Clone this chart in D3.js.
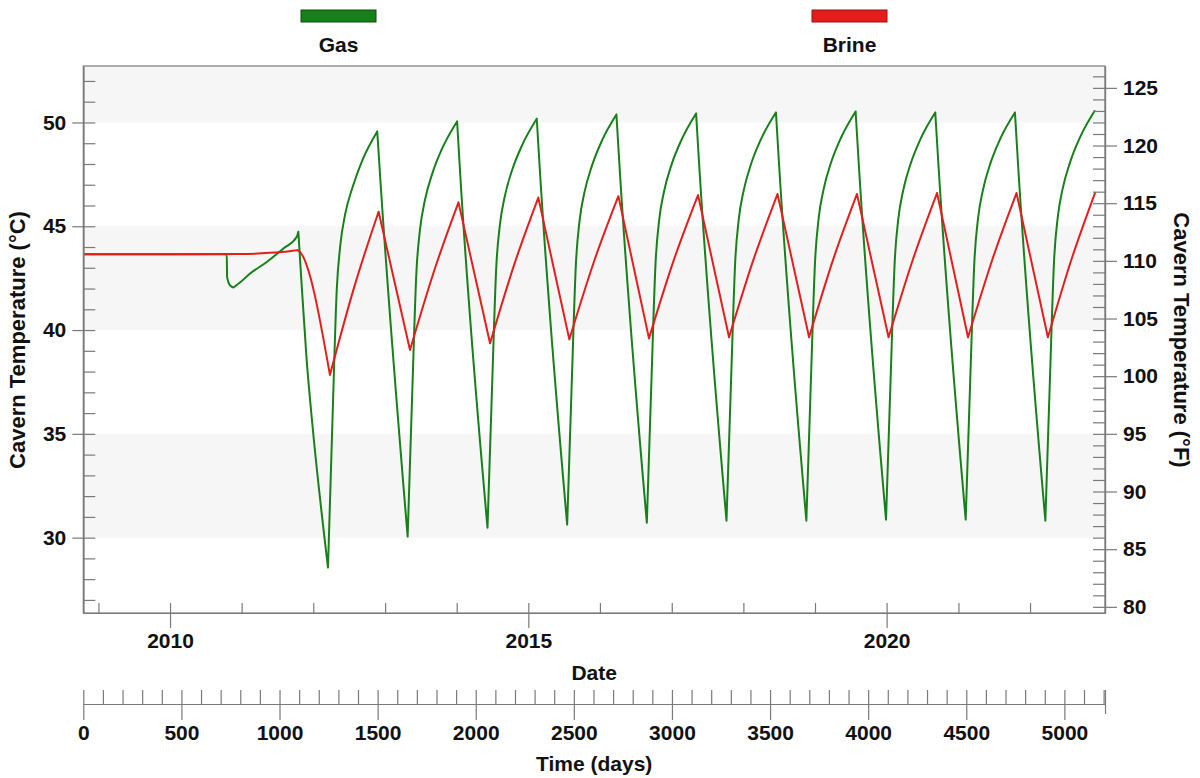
<!DOCTYPE html>
<html>
<head>
<meta charset="utf-8">
<script src="https://cdn.jsdelivr.net/npm/d3@7"></script>
<style>
  body { margin: 0; background: #fff; }
  text { font-family: Arial, "Liberation Sans", sans-serif; font-weight: bold; fill: #111; }
</style>
</head>
<body>
<svg id="chart" width="1200" height="778"></svg>
<script>
// Cavern temperature history: gas and brine, [day, °C]
const gasSeries = [
  [0, 43.65], [731, 43.65], [733, 42.55], [748, 42.15], [765, 42.05], [800, 42.3], [850, 42.72],
  [935, 43.28], [1020, 43.93], [1088, 44.49], [1096, 44.73], [1110, 42.6], [1138, 38.6], [1164, 35.8],
  [1247, 28.56], [1270, 35.7], [1292, 42.0], [1310, 44.1], [1335, 45.6], [1373, 46.9], [1423, 48.2], [1498, 49.57],
  [1514, 47.23],
  [1653, 30.05], [1676, 36.85], [1698, 42.85], [1716, 44.85], [1741, 46.25], [1779, 47.55], [1829, 48.75], [1905, 50.05],
  [1920, 47.65],
  [2060, 30.48], [2083, 37.18], [2105, 43.09], [2123, 45.06], [2148, 46.44], [2186, 47.72], [2236, 48.9], [2311, 50.18],
  [2326, 47.83],
  [2466, 30.63], [2489, 37.35], [2511, 43.27], [2529, 45.25], [2554, 46.63], [2592, 47.91], [2642, 49.1], [2717, 50.38],
  [2732, 48.02],
  [2872, 30.72], [2895, 37.42], [2917, 43.33], [2935, 45.31], [2960, 46.69], [2998, 47.97], [3048, 49.15], [3123, 50.43],
  [3138, 48.08],
  [3278, 30.82], [3301, 37.5], [3323, 43.4], [3341, 45.37], [3366, 46.74], [3404, 48.02], [3454, 49.2], [3530, 50.48],
  [3545, 48.12],
  [3685, 30.82], [3708, 37.52], [3730, 43.43], [3748, 45.41], [3773, 46.79], [3811, 48.07], [3861, 49.25], [3936, 50.53],
  [3951, 48.17],
  [4091, 30.87], [4114, 37.54], [4136, 43.42], [4154, 45.38], [4179, 46.75], [4217, 48.03], [4267, 49.21], [4342, 50.48],
  [4357, 48.13],
  [4497, 30.87], [4520, 37.54], [4542, 43.42], [4560, 45.38], [4585, 46.75], [4623, 48.03], [4673, 49.21], [4748, 50.48],
  [4763, 48.12],
  [4903, 30.82], [4926, 37.53], [4948, 43.45], [4966, 45.42], [4991, 46.8], [5029, 48.08], [5079, 49.27], [5154, 50.55]
];

const brineSeries = [
  [0, 43.65], [800, 43.66], [950, 43.72], [1050, 43.8], [1090, 43.85], [1100, 43.8],
  [1257, 37.84], [1381, 42.08], [1505, 45.7],
  [1665, 39.04], [1789, 42.88], [1912, 46.15],
  [2073, 39.36], [2196, 43.15], [2319, 46.38],
  [2477, 39.55], [2602, 43.28], [2727, 46.45],
  [2883, 39.6], [3008, 43.33], [3133, 46.5],
  [3291, 39.65], [3415, 43.38], [3538, 46.55],
  [3699, 39.65], [3821, 43.38], [3943, 46.55],
  [4104, 39.65], [4228, 43.4], [4351, 46.6],
  [4509, 39.65], [4633, 43.4], [4756, 46.6],
  [4916, 39.65], [5036, 43.4], [5156, 46.6]
];

const seriesNames = ["Gas", "Brine"];
const seriesColors = ["#17801a", "#e51d1d"];

const celsiusTicks = [30, 35, 40, 45, 50];
const fahrenheitTicks = [80, 85, 90, 95, 100, 105, 110, 115, 120, 125];
const dayTicks = [0, 500, 1000, 1500, 2000, 2500, 3000, 3500, 4000, 4500, 5000];
const yearLabels = [2010, 2015, 2020];
const yearMarks = [2009, 2010, 2011, 2012, 2013, 2014, 2015, 2016, 2017, 2018, 2019, 2020, 2021, 2022];
const shadedBands = [[50, 60], [40, 45], [30, 35]];

const startDate = new Date(2008, 9, 16);  // day 0 of the simulation
const lastDay = 5207;
const tempRange = [26.37, 52.72];

const svg = d3.select("#chart");
const L = 83.3, R = 1105, T = 66, B = 613;
const axisGray = "#7a7a7a";
const FONT = 21;

const xDays = d3.scaleLinear().domain([0, lastDay]).range([L, R]);
const xDate = d3.scaleTime()
  .domain([startDate, d3.timeDay.offset(startDate, lastDay)])
  .range([L, R]);
const yC = d3.scaleLinear().domain(tempRange).range([B, T]);
const toF = c => c * 1.8 + 32;
const yF = d3.scaleLinear().domain(tempRange.map(toF)).range([B, T]);

// Plot background with alternating light bands
svg.append("rect").attr("x", L).attr("y", T).attr("width", R - L).attr("height", B - T).attr("fill", "#fff");
svg.append("g").selectAll("rect").data(shadedBands).join("rect")
  .attr("x", L).attr("width", R - L)
  .attr("y", d => yC(Math.min(d[1], tempRange[1])))
  .attr("height", d => yC(d[0]) - yC(Math.min(d[1], tempRange[1])))
  .attr("fill", "#f6f6f6");

svg.append("clipPath").attr("id", "plotClip")
  .append("rect").attr("x", L).attr("y", T).attr("width", R - L).attr("height", B - T);

// Split a series into its heating / cooling runs so each run is smoothed
// on its own while the turning points stay sharp.
function monotonicRuns(series) {
  const runs = [];
  let cur = [series[0], series[1]];
  let dir = Math.sign(series[1][1] - series[0][1]);
  for (let i = 2; i < series.length; i++) {
    const s = Math.sign(series[i][1] - series[i - 1][1]);
    if (s === 0 || s === dir || dir === 0) {
      if (dir === 0) dir = s;
      cur.push(series[i]);
    } else {
      runs.push(cur);
      cur = [series[i - 1], series[i]];
      dir = s;
    }
  }
  runs.push(cur);
  return runs;
}

const line = d3.line().x(d => xDays(d[0])).y(d => yC(d[1])).curve(d3.curveMonotoneX);
const curves = svg.append("g").attr("clip-path", "url(#plotClip)");
[gasSeries, brineSeries].forEach((s, i) => {
  const path = monotonicRuns(s).map(run => line(run)).join("");
  curves.append("path")
    .attr("d", path)
    .attr("fill", "none")
    .attr("stroke", seriesColors[i])
    .attr("stroke-width", 2)
    .attr("stroke-linejoin", "round")
    .attr("stroke-linecap", "round");
});

// Frame
svg.append("rect").attr("x", L).attr("y", T).attr("width", R - L).attr("height", B - T)
  .attr("fill", "none").attr("stroke", axisGray).attr("stroke-width", 1.2);

function styleAxis(g) {
  g.selectAll("path.domain").attr("stroke", axisGray).attr("stroke-width", 1.2);
  g.selectAll(".tick line").attr("stroke", axisGray).attr("stroke-width", 1.2);
  g.selectAll(".tick text").attr("font-size", FONT).attr("fill", "#111")
    .attr("font-family", 'Arial, "Liberation Sans", sans-serif').attr("font-weight", "bold");
}

// Left °C axis: inner minor ticks, outer major ticks with labels
const gLeftMinor = svg.append("g").attr("transform", `translate(${L},0)`)
  .call(d3.axisLeft(yC).tickValues(d3.range(27, 53)).tickSize(-12).tickSizeOuter(0).tickFormat(""));
styleAxis(gLeftMinor);
const gLeft = svg.append("g").attr("transform", `translate(${L},0)`)
  .call(d3.axisLeft(yC).tickValues(celsiusTicks).tickSize(11).tickSizeOuter(0).tickPadding(6));
styleAxis(gLeft);

// Right °F axis
const gRightMinor = svg.append("g").attr("transform", `translate(${R},0)`)
  .call(d3.axisRight(yF).tickValues(d3.range(80, 127)).tickSize(-12).tickSizeOuter(0).tickFormat(""));
styleAxis(gRightMinor);
const gRight = svg.append("g").attr("transform", `translate(${R},0)`)
  .call(d3.axisRight(yF).tickValues(fahrenheitTicks).tickSize(12).tickSizeOuter(0).tickPadding(6));
styleAxis(gRight);

// Date axis
const gDateMinor = svg.append("g").attr("transform", `translate(0,${B})`)
  .call(d3.axisBottom(xDate).tickValues(yearMarks.map(y => new Date(y, 0, 1))).tickSize(-10).tickSizeOuter(0).tickFormat(""));
styleAxis(gDateMinor);
const gDate = svg.append("g").attr("transform", `translate(0,${B})`)
  .call(d3.axisBottom(xDate).tickValues(yearLabels.map(y => new Date(y, 0, 1))).tickSize(15).tickSizeOuter(0)
    .tickPadding(5).tickFormat(d3.timeFormat("%Y")));
styleAxis(gDate);

// Days axis
const dayAxisY = 704;
const gDaysMinor = svg.append("g").attr("transform", `translate(0,${dayAxisY})`)
  .call(d3.axisBottom(xDays).tickValues(d3.range(100, 5201, 100).concat([lastDay])).tickSize(-14).tickSizeOuter(0).tickFormat(""));
styleAxis(gDaysMinor);
const gDays = svg.append("g").attr("transform", `translate(0,${dayAxisY})`)
  .call(d3.axisBottom(xDays).tickValues(dayTicks).tickSize(16).tickSizeOuter(0).tickPadding(5).tickFormat(d3.format("d")));
styleAxis(gDays);
gDays.select(".tick line").attr("y1", -14);
gDaysMinor.selectAll(".tick").filter(d => d === lastDay).select("line").attr("y2", 10).attr("y1", -14);

// Axis titles
svg.append("text").attr("transform", "translate(25,340) rotate(-90)")
  .attr("text-anchor", "middle").attr("font-size", 22).text("Cavern Temperature (°C)");
svg.append("text").attr("transform", "translate(1174,340) rotate(90)")
  .attr("text-anchor", "middle").attr("font-size", 22).text("Cavern Temperature (°F)");
svg.append("text").attr("x", (L + R) / 2).attr("y", 680)
  .attr("text-anchor", "middle").attr("font-size", FONT).text("Date");
svg.append("text").attr("x", (L + R) / 2).attr("y", 771)
  .attr("text-anchor", "middle").attr("font-size", FONT).text("Time (days)");

// Legend
const legendX = [338.5, 849.5];
const legendStroke = ["#0b4f0b", "#9a1010"];
const legend = svg.append("g").selectAll("g").data(seriesNames).join("g")
  .attr("transform", (d, i) => `translate(${legendX[i]},0)`);
legend.append("rect").attr("x", -37.5).attr("y", 10).attr("width", 75).attr("height", 12)
  .attr("fill", (d, i) => seriesColors[i]).attr("stroke", (d, i) => legendStroke[i]).attr("stroke-width", 1);
legend.append("text").attr("y", 52).attr("text-anchor", "middle").attr("font-size", FONT).text(d => d);
</script>
</body>
</html>
